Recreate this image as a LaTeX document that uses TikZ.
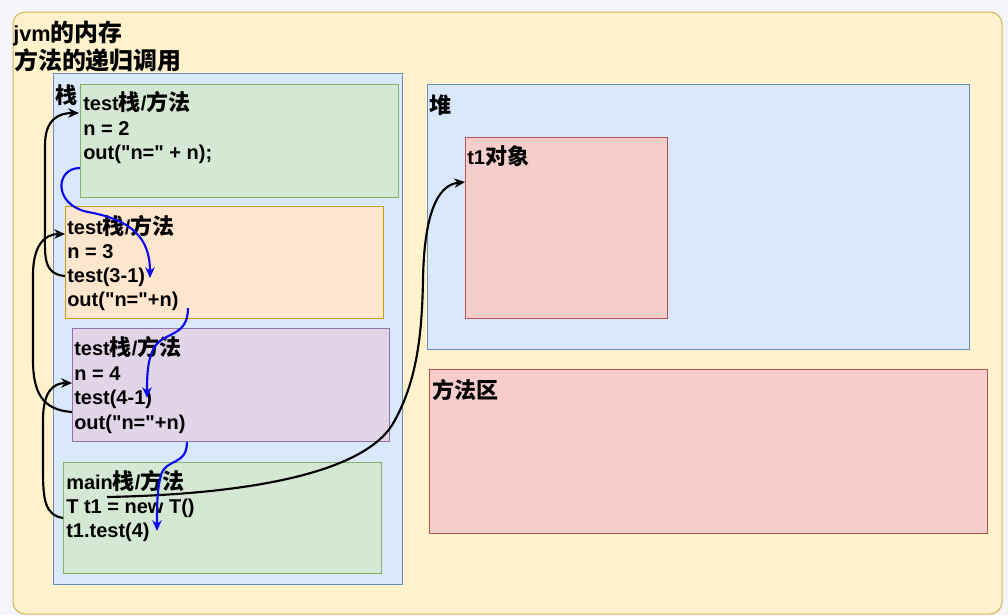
\documentclass[tikz,border=0pt]{standalone}
\usepackage{fontspec}
\setmainfont{Liberation Sans}[Ligatures=TeXOff]
\newfontfamily\cjk{Noto Sans CJK SC}[Scale=1.1]
\newcommand{\zh}[1]{{\cjk #1}}
\usetikzlibrary{arrows.meta,fit}
\definecolor{bgout}{HTML}{F4F6FA}
\definecolor{yfill}{HTML}{FFF2CC}
\definecolor{ydraw}{HTML}{D6B656}
\definecolor{bfill}{HTML}{DAE8FC}
\definecolor{bdraw}{HTML}{6C8EBF}
\definecolor{gfill}{HTML}{D5E8D4}
\definecolor{gdraw}{HTML}{82B366}
\definecolor{ofill}{HTML}{FFE6CC}
\definecolor{odraw}{HTML}{D79B00}
\definecolor{pfill}{HTML}{E1D5E7}
\definecolor{pdraw}{HTML}{9673A6}
\definecolor{rfill}{HTML}{F8CECC}
\definecolor{rdraw}{HTML}{B85450}
\definecolor{arrblue}{HTML}{0A0AF0}
\tikzset{
  area/.style={inner sep=0pt, line width=0.75pt},
  txt/.style={inner sep=0pt, anchor=base west, font=\bfseries\fontsize{15}{18}\selectfont},
  ttl/.style={inner sep=0pt, anchor=base west, font=\bfseries\fontsize{16.3}{19}\selectfont},
  blk/.style={line width=1.6pt, black, -{Stealth[length=8pt,width=7pt,inset=2.5pt]}},
  blu/.style={line width=1.6pt, arrblue, -{Stealth[length=8pt,width=7pt,inset=2.5pt]}}
}
\begin{document}
\begin{tikzpicture}[x=0.75pt,y=-0.75pt]
\useasboundingbox (0,0) rectangle (1008,615);
\fill[bgout] (0,0) rectangle (1008,615);
\node[area, fit={(13,12)(1002,614)}, fill=yfill, draw=ydraw, rounded corners=9pt] (jvm) {};
% stack
\node[area, fit={(53,73)(402,584)}, fill=bfill, draw=bdraw] (stack) {};
\node[area, fit={(80,84)(398,197)}, fill=gfill, draw=gdraw] (b1) {};
\node[area, fit={(65,206)(383,318)}, fill=ofill, draw=odraw] (b2) {};
\node[area, fit={(72,328)(389,441)}, fill=pfill, draw=pdraw] (b3) {};
\node[area, fit={(63,462)(381,573)}, fill=gfill, draw=gdraw] (b4) {};
% heap and method area
\node[area, fit={(427,84)(969,349)}, fill=bfill, draw=bdraw] (heap) {};
\node[area, fit={(465,137)(667,318)}, fill=rfill, draw=rdraw] (t1) {};
\node[area, fit={(429,369)(987,533)}, fill=rfill, draw=rdraw] (marea) {};
% texts
\node[ttl] (ti1) at (13,41) {jvm\zh{的内存}};
\node[ttl] (ti2) at (14,69) {\zh{方法的递归调用}};
\node[txt] (lstack) at (55,103) {\zh{栈}};
\node[txt] (b1a) at (83,110) {test\zh{栈}/\zh{方法}};
\node[txt] (b1b) at (83,135) {n = 2};
\node[txt] (b1c) at (83,159) {out("n=" + n);};
\node[txt] (b2a) at (67,234) {test\zh{栈}/\zh{方法}};
\node[txt] (b2b) at (67,258) {n = 3};
\node[txt] (b2c) at (67,282) {test(3-1)};
\node[txt] (b2d) at (67,306) {out("n="+n)};
\node[txt] (b3a) at (74,355) {test\zh{栈}/\zh{方法}};
\node[txt] (b3b) at (74,380) {n = 4};
\node[txt] (b3c) at (74,404) {test(4-1)};
\node[txt] (b3d) at (74,429) {out("n="+n)};
\node[txt] (b4a) at (66,489) {main\zh{栈}/\zh{方法}};
\node[txt] (b4b) at (66,513) {T t1 = new T()};
\node[txt] (b4c) at (66,537) {t1.test(4)};
\node[txt] (lheap) at (429,113) {\zh{堆}};
\node[txt] (lt1) at (467,164) {t1\zh{对象}};
\node[txt] (lmarea) at (432,398) {\zh{方法区}};
% connector end points
\coordinate (k1s) at (65,276);  \coordinate (k1e) at (79,113);
\coordinate (k2s) at (72,412);  \coordinate (k2e) at (65,234);
\coordinate (k3s) at (63,518);  \coordinate (k3e) at (72,383);
\coordinate (k4s) at (107,497); \coordinate (k4e) at (465,182);
\coordinate (u1s) at (80,168);  \coordinate (u1e) at (150,278);
\coordinate (u2s) at (188,308); \coordinate (u2e) at (147,398);
\coordinate (u3s) at (187,442); \coordinate (u3e) at (157,531);
% black arrows
\draw[blk] (k1s) .. controls (42,274) and (45,255) .. (45,225) -- (45,145) .. controls (45,120) and (58,113) .. (k1e);
\draw[blk] (k2s) .. controls (42,410) and (33,392) .. (33,360) -- (33,275) .. controls (33,245) and (45,234) .. (k2e);
\draw[blk] (k3s) .. controls (45,515) and (43,500) .. (43,470) -- (43,420) .. controls (43,392) and (53,383) .. (k3e);
\draw[blk] (k4s) .. controls (260,494) and (370,470) .. (395,420) .. controls (418,378) and (422,330) .. (423,280) .. controls (424,218) and (436,185) .. (k4e);
% blue arrows
\draw[blu] (u1s) .. controls (55,168) and (53,205) .. (88,212) .. controls (132,220) and (150,238) .. (u1e);
\draw[blu] (u2s) .. controls (188,336) and (166,332) .. (156,345) .. controls (148,356) and (147,372) .. (u2e);
\draw[blu] (u3s) .. controls (187,466) and (166,458) .. (161,475) .. controls (157,490) and (157,506) .. (u3e);
\end{tikzpicture}
\end{document}
